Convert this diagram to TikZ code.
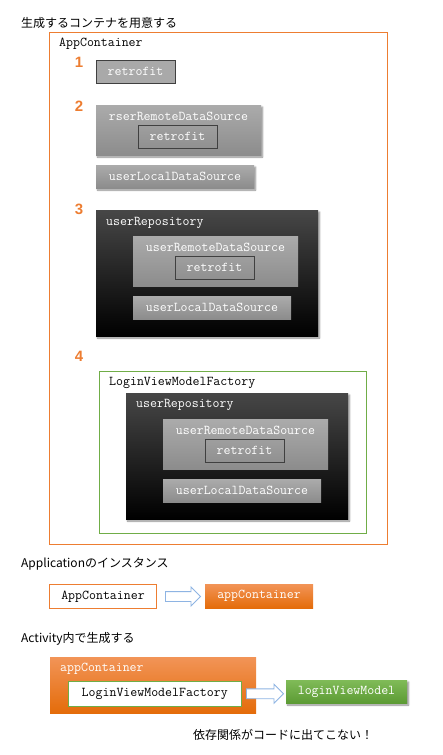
\documentclass[tikz,border=0pt]{standalone}
\usepackage{fontspec}
\newfontfamily\jpfont{Noto Sans CJK JP}
\newfontfamily\numfont{Liberation Sans}
\usetikzlibrary{shapes.arrows,shadows.blur,calc}
\definecolor{orng}{HTML}{ED7D31}
\definecolor{grn}{HTML}{70AD47}
\definecolor{gtop}{HTML}{ABABAB}
\definecolor{gbot}{HTML}{8C8C8C}
\definecolor{dgray}{HTML}{404040}
\definecolor{dtop}{HTML}{474747}
\definecolor{otop}{HTML}{F29457}
\definecolor{obot}{HTML}{E46C0A}
\definecolor{gntop}{HTML}{80BB58}
\definecolor{gnbot}{HTML}{5C9B34}
\definecolor{arrowblue}{HTML}{8EB4E3}
\begin{document}
\begin{tikzpicture}[x=1pt,y=-1pt,
  mono/.style={font=\ttfamily\fontsize{13.5}{15}\selectfont, inner sep=0pt},
  wtext/.style={mono, text=white},
  btext/.style={mono, text=black},
  jtext/.style={font=\jpfont\fontsize{12}{14}\selectfont, inner sep=0pt, anchor=west},
  numtext/.style={font=\numfont\bfseries\fontsize{15}{16}\selectfont, text=orng, inner sep=0pt},
  rect/.style 2 args={minimum width=#1, minimum height=#2, anchor=north west, inner sep=0pt, outer sep=0pt},
  sh/.style={blur shadow={shadow xshift=1.5pt, shadow yshift=-2pt, shadow blur steps=6, shadow opacity=45}},
  flatgray/.style={fill=gtop!95!gbot, draw=dgray, line width=0.9pt},
  innerbox/.style={draw=dgray, line width=0.9pt},
  gradgray/.style={top color=gtop, bottom color=gbot, draw=none},
  blackbox/.style={top color=dtop, middle color=black, bottom color=black, draw=none},
  obox/.style={top color=otop, bottom color=obot, draw=none},
  gnbox/.style={top color=gntop, bottom color=gnbot, draw=none},
  blockarrow/.style={single arrow, draw=arrowblue, fill=white, line width=0.9pt,
    minimum width=18pt, single arrow head extend=4.5pt, inner sep=4.5pt,
    single arrow head indent=0pt, anchor=west}
]
\useasboundingbox (0,0) rectangle (443,755);

% title
\node[jtext] (title) at (21,23) {生成するコンテナを用意する};
% outer container
\node[rect={338pt}{511.5pt}, draw=orng, line width=1pt] (outer) at (49.5,32.5) {};
\node[btext, anchor=west] (outerlbl) at (59,44) {AppContainer};

% step numbers
\node[numtext] (n1) at (79,62) {1};
\node[numtext] (n2) at (79,106) {2};
\node[numtext] (n3) at (79,209) {3};
\node[numtext] (n4) at (79,356) {4};

% step 1
\node[rect={79pt}{23pt}, flatgray] (r1) at (96,60) {};
\node[wtext] (r1t) at (r1.center) {retrofit};

% step 2
\node[rect={165pt}{50pt}, gradgray, sh] (rs2) at (96,105) {};
\node[wtext] (rs2t) at (178.5,116.5) {rserRemoteDataSource};
\node[rect={79pt}{23pt}, innerbox] (r2) at (138,125) {};
\node[wtext] (r2t) at (r2.center) {retrofit};
\node[rect={158pt}{23pt}, gradgray, sh] (ul2) at (96,165) {};
\node[wtext] (ul2t) at (ul2.center) {userLocalDataSource};

% step 3
\node[rect={222pt}{126pt}, blackbox, sh] (rp3) at (96,210) {};
\node[wtext, anchor=west] (rp3t) at (106,222.5) {userRepository};
\node[rect={165pt}{50pt}, gradgray] (ur3) at (133,236) {};
\node[wtext] (ur3t) at (215.5,247.5) {userRemoteDataSource};
\node[rect={79pt}{23pt}, innerbox] (r3) at (175,256) {};
\node[wtext] (r3t) at (r3.center) {retrofit};
\node[rect={158pt}{23pt}, gradgray] (ul3) at (133,296) {};
\node[wtext] (ul3t) at (ul3.center) {userLocalDataSource};

% step 4
\node[rect={267pt}{161.5pt}, draw=grn, line width=1pt] (fac) at (99.5,371.5) {};
\node[btext, anchor=west] (fact) at (109,382.5) {LoginViewModelFactory};
\node[rect={222pt}{126pt}, blackbox, sh] (rp4) at (126,393) {};
\node[wtext, anchor=west] (rp4t) at (136,404.5) {userRepository};
\node[rect={165pt}{50pt}, gradgray] (ur4) at (163,419) {};
\node[wtext] (ur4t) at (245.5,430.5) {userRemoteDataSource};
\node[rect={79pt}{23pt}, innerbox] (r4) at (205,439) {};
\node[wtext] (r4t) at (r4.center) {retrofit};
\node[rect={158pt}{23pt}, gradgray] (ul4) at (163,479) {};
\node[wtext] (ul4t) at (ul4.center) {userLocalDataSource};

% Application instance
\node[jtext] (apptitle) at (21,564) {Applicationのインスタンス};
\node[rect={107pt}{24pt}, draw=orng, fill=white, line width=1pt] (acls) at (49.5,584.5) {};
\node[btext] (aclst) at (acls.center) {AppContainer};
\node[rect={108pt}{24pt}, obox] (ainst) at (205,584) {};
\node[wtext] (ainstt) at (ainst.center) {appContainer};
\node[blockarrow, minimum height=35pt] (ar1) at ($(acls.east)+(8.5,0)$) {};

% Activity
\node[jtext] (acttitle) at (21,639) {Activity内で生成する};
\node[rect={206pt}{56pt}, obox] (abig) at (50,657) {};
\node[wtext, anchor=west] (abigt) at (60,668.5) {appContainer};
\node[rect={172.5pt}{24.5pt}, draw=grn, fill=white, line width=1pt] (lvmf) at (68.5,681.5) {};
\node[btext] (lvmft) at (lvmf.center) {LoginViewModelFactory};
\node[rect={121pt}{23pt}, gnbox, sh] (lvm) at (286,680) {};
\node[wtext] (lvmt) at (lvm.center) {loginViewModel};
\node[blockarrow, minimum height=37pt] (ar2) at ($(abig.east |- lvmf.east)+(-10,0)$) {};

% note
\node[jtext] (note) at (193,735) {依存関係がコードに出てこない！};
\end{tikzpicture}
\end{document}
